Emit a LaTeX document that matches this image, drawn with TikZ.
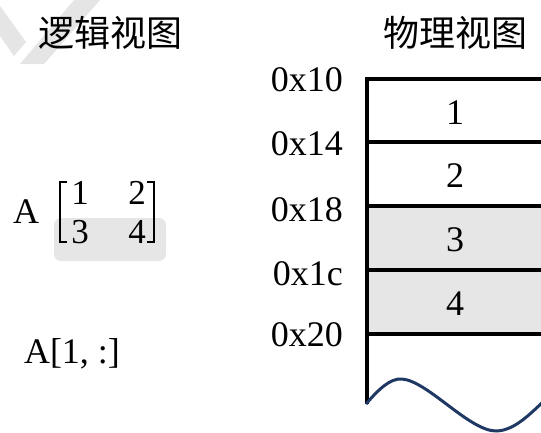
\documentclass[tikz,border=0pt]{standalone}
\usepackage{fontspec}
\setmainfont{Liberation Serif}
\newfontfamily\cjk{Noto Sans CJK SC}
\begin{document}
\begin{tikzpicture}[x={(1pt,0)},y={(0,-1pt)},
  big/.style={font=\fontsize{36}{40}\selectfont},
  mat/.style={font=\fontsize{35}{38}\selectfont},
  addr/.style={big, anchor=east, inner sep=0pt},
  sep/.style={line width=3.8pt, black},
  brk/.style={line width=2pt},
  wave/.style={line width=3pt, color={rgb,255:red,31;green,56;blue,100}},
  shade/.style={fill={rgb,255:red,230;green,230;blue,230}}]
\useasboundingbox (0,0) rectangle (541,432);
\clip (0,0) rectangle (541,432);
% watermark
\fill[gray!20] (74,0) -- (100,0) -- (44,64) -- (20,64) -- cycle;
\fill[gray!20] (0,6) -- (26,42) -- (14,56) -- (0,36) -- cycle;
% titles
\node[big, inner sep=0pt] (tl) at (110,33) {\cjk 逻辑视图};
\node[big, inner sep=0pt] (tr) at (455,33) {\cjk 物理视图};
% matrix
\fill[shade, rounded corners=7pt] (54,218) rectangle (166,261);
\node[big, inner sep=0pt] (A) at (26,212) {A};
\draw[brk] (67,182) -- (60,182) -- (60,242) -- (67,242);
\draw[brk] (147,182) -- (154,182) -- (154,242) -- (147,242);
\node[mat, inner sep=0pt] (m11) at (80,193) {1};
\node[mat, inner sep=0pt] (m12) at (137,193) {2};
\node[mat, inner sep=0pt] (m21) at (80,232) {3};
\node[mat, inner sep=0pt] (m22) at (137,232) {4};
\node[big, inner sep=0pt] (slice) at (72,354) {A[1, :]};
% memory
\fill[shade] (367,206) rectangle (545,334);
\draw[sep] (365,79) -- (545,79);
\draw[sep] (365,142) -- (545,142);
\draw[sep] (365,206) -- (545,206);
\draw[sep] (365,270) -- (545,270);
\draw[sep] (365,334) -- (545,334);
\draw[line width=3.5pt] (367,78) -- (367,404);
\draw[wave] (366,404) .. controls (378,390) and (390,378) .. (402,379)
  .. controls (428,381) and (470,432) .. (497,431)
  .. controls (515,430) and (530,414) .. (545,400);
\node[big, inner sep=0pt] (c1) at (455,113) {1};
\node[big, inner sep=0pt] (c2) at (455,176) {2};
\node[big, inner sep=0pt] (c3) at (455,240) {3};
\node[big, inner sep=0pt] (c4) at (455,304) {4};
% addresses
\node[addr] (a1) at (343,80) {0x10};
\node[addr] (a2) at (343,144) {0x14};
\node[addr] (a3) at (343,210) {0x18};
\node[addr] (a4) at (343,274) {0x1c};
\node[addr] (a5) at (343,335) {0x20};
\end{tikzpicture}
\end{document}
